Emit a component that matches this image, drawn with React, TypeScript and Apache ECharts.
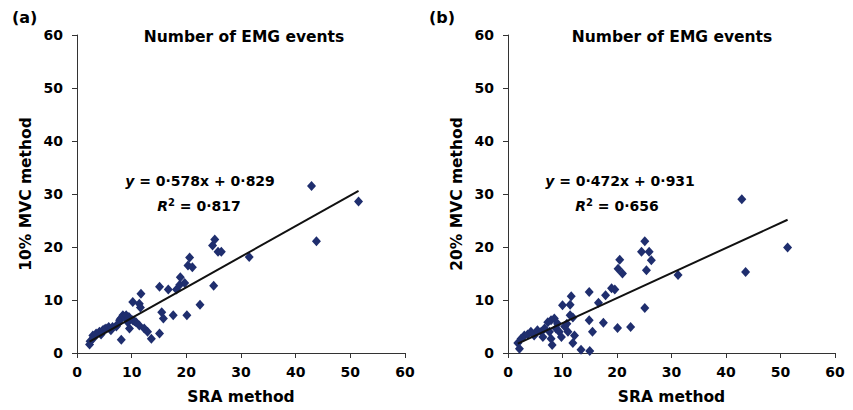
import React, { useEffect, useRef } from "react";
import * as echarts from "echarts";

// Panel (a): SRA method vs 10% MVC method
const sraA = [2.3, 2.4, 2.9, 3.0, 3.5, 4.1, 4.4, 4.7, 5.0, 5.3, 5.8, 6.2, 6.5, 7.2, 7.5, 7.8, 8.0, 8.1, 8.4, 8.7, 9.0, 9.3, 9.5, 9.6, 10.2, 10.2, 10.5, 10.8, 11.4, 11.6, 11.7, 11.4, 12.3, 12.9, 13.6, 15.1, 15.1, 15.5, 15.8, 16.7, 17.6, 18.2, 18.8, 18.9, 19.7, 20.1, 20.3, 20.6, 21.1, 22.5, 24.8, 25.0, 25.2, 25.8, 26.4, 31.5, 42.9, 43.8, 51.5];
const mvc10 = [1.6, 2.2, 3.3, 2.8, 3.7, 4.0, 3.5, 4.3, 4.5, 4.6, 4.9, 4.3, 4.9, 5.0, 5.5, 6.2, 6.5, 2.5, 7.1, 6.8, 7.1, 5.8, 6.8, 4.6, 6.2, 9.6, 6.0, 5.8, 9.3, 8.6, 11.2, 5.2, 4.6, 4.0, 2.7, 3.7, 12.5, 7.7, 6.5, 12.0, 7.1, 12.0, 12.9, 14.3, 13.2, 7.1, 16.5, 18.0, 16.2, 9.1, 20.3, 12.7, 21.4, 19.1, 19.1, 18.1, 31.5, 21.1, 28.6];

// Panel (b): SRA method vs 20% MVC method
const sraB = [1.8, 2.1, 2.4, 3.0, 3.6, 4.2, 4.8, 5.4, 6.1, 6.4, 6.7, 7.3, 7.6, 7.9, 7.9, 8.1, 8.5, 8.8, 9.1, 9.4, 9.8, 10.0, 10.4, 10.8, 11.0, 11.4, 11.4, 11.6, 11.9, 11.9, 12.2, 13.4, 14.9, 14.9, 15.0, 15.5, 16.6, 17.5, 17.9, 19.0, 19.6, 20.1, 20.2, 20.5, 21.0, 22.5, 24.5, 25.1, 25.1, 25.4, 25.9, 26.3, 31.2, 42.9, 43.6, 51.3];
const mvc20 = [1.9, 0.8, 2.7, 3.3, 3.5, 4.0, 3.3, 4.3, 4.0, 3.0, 4.6, 5.8, 4.0, 6.2, 2.7, 1.5, 6.5, 4.6, 5.5, 4.0, 3.0, 9.0, 5.0, 5.5, 4.0, 9.1, 7.1, 10.7, 6.7, 1.9, 3.3, 0.6, 11.5, 6.2, 0.4, 4.0, 9.5, 5.7, 10.9, 12.2, 12.0, 4.7, 15.9, 17.6, 15.0, 4.9, 19.1, 21.1, 8.5, 15.6, 19.1, 17.5, 14.7, 29.0, 15.3, 19.9];

// Regression fits shown on the chart
const fitA = { slope: 0.578, intercept: 0.829, r2: "0·817", label: "0·578x + 0·829" };
const fitB = { slope: 0.472, intercept: 0.931, r2: "0·656", label: "0·472x + 0·931" };

const axisTicks = [0, 10, 20, 30, 40, 50, 60];

const FONT = "'DejaVu Sans', 'Liberation Sans', Arial, sans-serif";
const MARK = "#1f2e6e";

function pairs(xs: number[], ys: number[]) {
  return xs.map((x, i) => [x, ys[i]]);
}
function fitLine(xs: number[], f: { slope: number; intercept: number }) {
  const lo = Math.min(...xs);
  const hi = Math.max(...xs);
  return [
    [lo, f.slope * lo + f.intercept],
    [hi, f.slope * hi + f.intercept],
  ];
}

export default function App() {
  const ref = useRef<HTMLDivElement>(null);
  useEffect(() => {
    if (!ref.current) return;
    const chart = echarts.init(ref.current, null, { renderer: "svg" });
    const axisCommon = {
      min: axisTicks[0],
      max: axisTicks[axisTicks.length - 1],
      interval: 10,
      splitLine: { show: false },
      axisLine: { show: true, lineStyle: { color: "#333", width: 1 } },
      axisTick: { show: true, length: 5, lineStyle: { color: "#333" } },
      axisLabel: { color: "#000", fontFamily: FONT, fontWeight: "bold", fontSize: 14 },
      nameTextStyle: { color: "#000", fontFamily: FONT, fontWeight: "bold", fontSize: 15.5 },
    };
    const xAxis = (gi: number) => ({
      ...axisCommon,
      type: "value",
      gridIndex: gi,
      name: "SRA method",
      nameLocation: "middle",
      nameGap: 36,
      axisLabel: { ...axisCommon.axisLabel, margin: 12 },
    });
    const yAxis = (gi: number, name: string) => ({
      ...axisCommon,
      type: "value",
      gridIndex: gi,
      name,
      nameLocation: "middle",
      nameGap: 43,
      axisLabel: { ...axisCommon.axisLabel, margin: 14 },
    });
    const eqRich = {
      i: { fontStyle: "italic", fontWeight: "bold", fontSize: 14, fontFamily: FONT, fill: "#000" },
      n: { fontWeight: "bold", fontSize: 14, fontFamily: FONT, fill: "#000" },
      sup: { fontWeight: "bold", fontSize: 10, fontFamily: FONT, fill: "#000", verticalAlign: "top", padding: [0, 0, 7, 0] },
    };
    const eqText = (x: number, y: number, txt: string) => ({
      type: "text",
      x,
      y,
      style: { text: txt, rich: eqRich, align: "center", verticalAlign: "middle", fill: "#000" },
    });
    const titleStyle = { fontFamily: FONT, fontWeight: "bold", fontSize: 15.5, color: "#000" };
    chart.setOption({
      animation: false,
      backgroundColor: "#fff",
      title: [
        { text: "Number of EMG events", left: 239, top: 24, textAlign: "center", textStyle: titleStyle },
        { text: "Number of EMG events", left: 667, top: 24, textAlign: "center", textStyle: titleStyle },
      ],
      grid: [
        { left: 77, top: 35, width: 328, height: 318 },
        { left: 508, top: 35, width: 327, height: 318 },
      ],
      xAxis: [xAxis(0), xAxis(1)],
      yAxis: [yAxis(0, "10% MVC method"), yAxis(1, "20% MVC method")],
      series: [
        { type: "scatter", xAxisIndex: 0, yAxisIndex: 0, data: pairs(sraA, mvc10), symbol: "diamond", symbolSize: [9, 10], itemStyle: { color: MARK, opacity: 1 } },
        { type: "line", xAxisIndex: 0, yAxisIndex: 0, data: fitLine(sraA, fitA), showSymbol: false, symbol: "none", lineStyle: { color: "#111", width: 2 }, z: 3 },
        { type: "scatter", xAxisIndex: 1, yAxisIndex: 1, data: pairs(sraB, mvc20), symbol: "diamond", symbolSize: [9, 10], itemStyle: { color: MARK, opacity: 1 } },
        { type: "line", xAxisIndex: 1, yAxisIndex: 1, data: fitLine(sraB, fitB), showSymbol: false, symbol: "none", lineStyle: { color: "#111", width: 2 }, z: 3 },
      ],
      graphic: [
        { type: "text", x: 12, y: 9, style: { text: "(a)", fontFamily: FONT, fontWeight: "bold", fontSize: 16, fill: "#000" } },
        { type: "text", x: 429, y: 9, style: { text: "(b)", fontFamily: FONT, fontWeight: "bold", fontSize: 16, fill: "#000" } },
        eqText(200, 181, "{i|y}{n| = " + fitA.label + "}"),
        eqText(199, 206, "{i|R}{sup|2}{n| = " + fitA.r2 + "}"),
        eqText(620, 181, "{i|y}{n| = " + fitB.label + "}"),
        eqText(617, 206, "{i|R}{sup|2}{n| = " + fitB.r2 + "}"),
      ],
    });
    return () => chart.dispose();
  }, []);
  return <div ref={ref} style={{ position: "fixed", left: 0, top: 0, width: 853, height: 410 }} />;
}
